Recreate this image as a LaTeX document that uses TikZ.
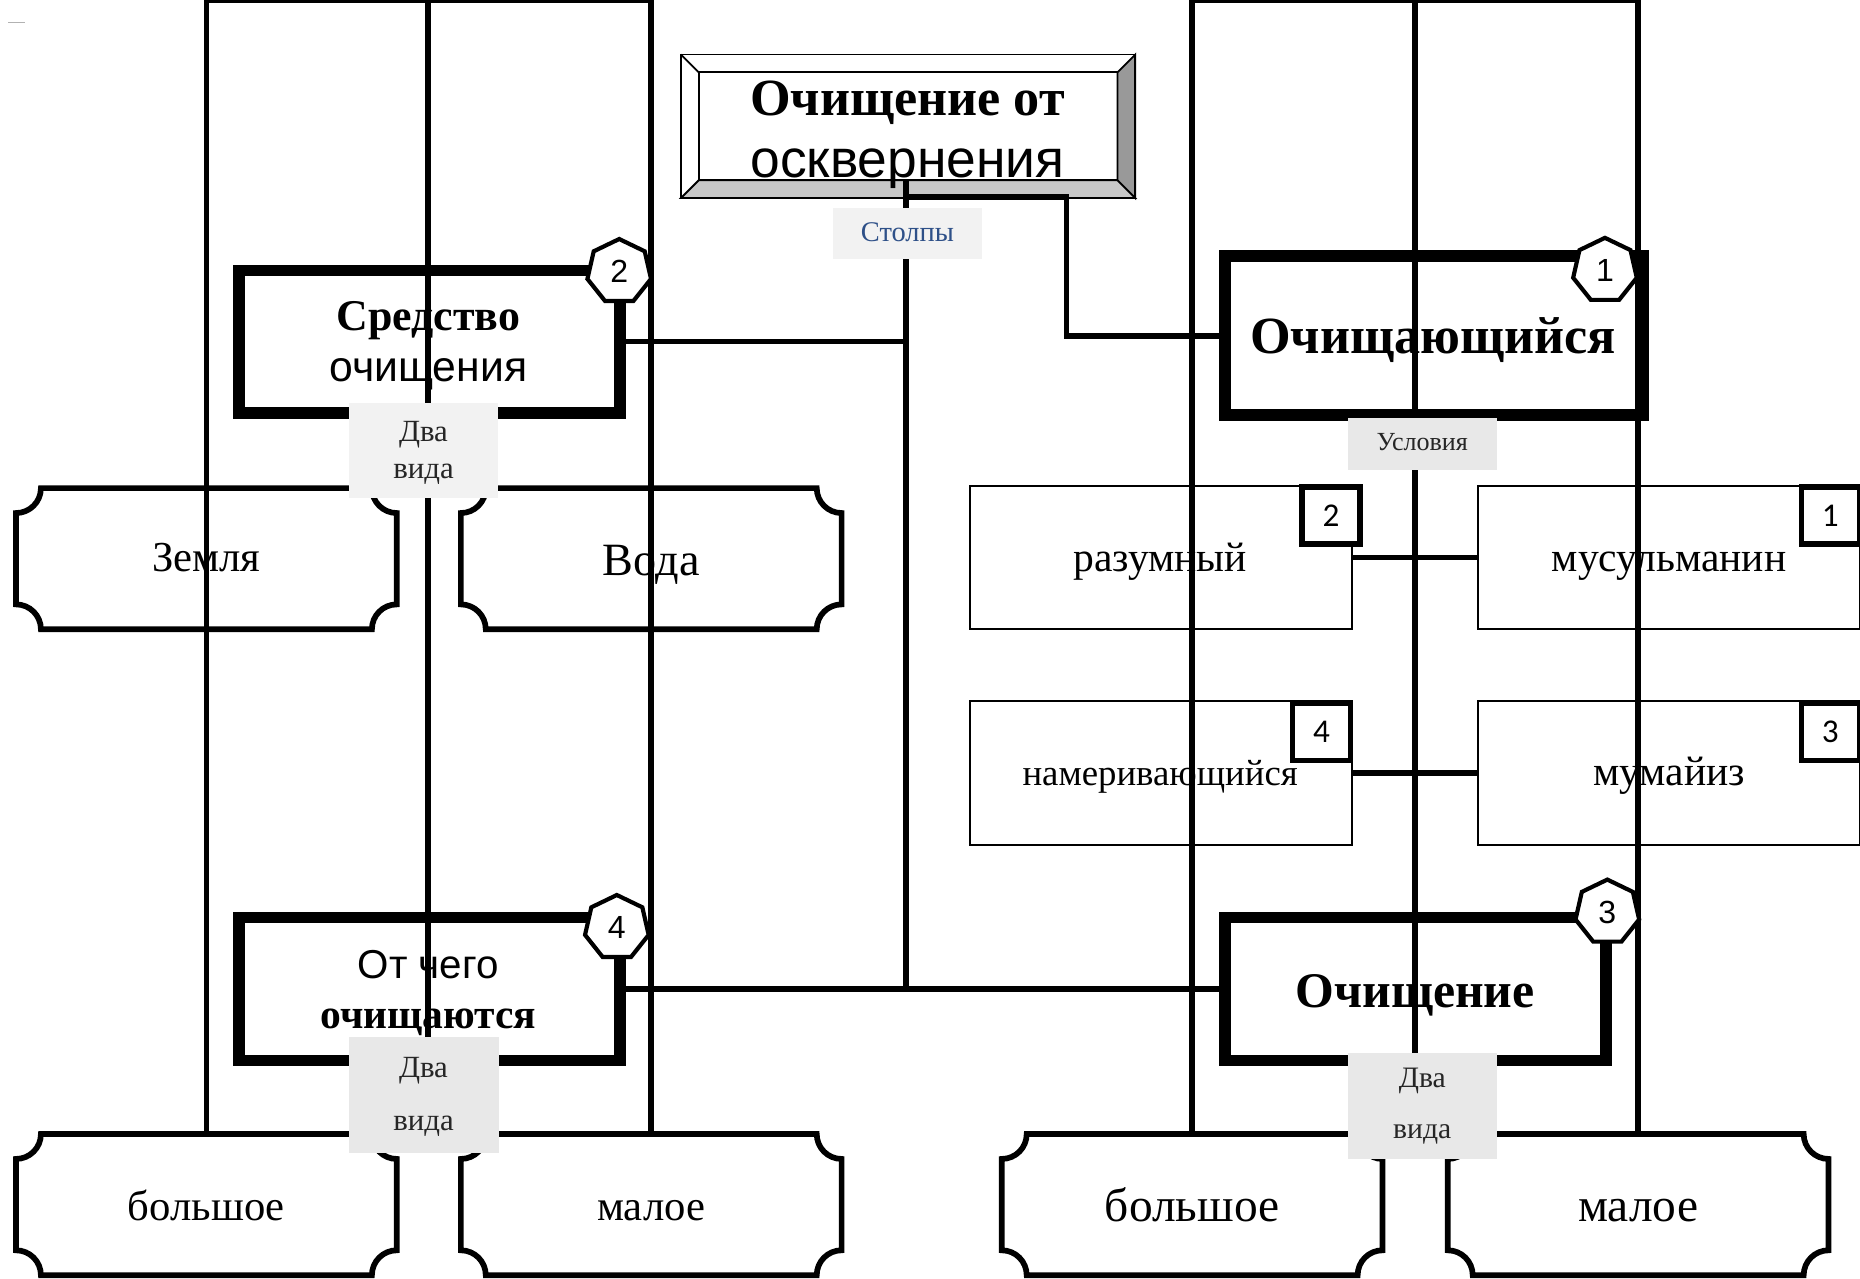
\documentclass[tikz,border=0pt]{standalone}
\usepackage{fontspec}
\setmainfont{Liberation Serif}
\newfontfamily\arialf{Liberation Sans}
\newfontfamily\calibf{Carlito}
\usetikzlibrary{shapes.geometric,calc}
\definecolor{lbl}{HTML}{F2F2F2}
\definecolor{lbldark}{HTML}{E8E8E8}
\definecolor{pillar}{HTML}{2E5088}
\definecolor{bevR}{HTML}{999999}
\definecolor{bevB}{HTML}{C8C8C8}
\newcommand{\fsz}[1]{\fontsize{#1}{#1}\selectfont}
\newcommand{\leafshape}[1]{%
  \draw[leafline] let \p1=(#1.north west), \p2=(#1.south east) in
   (\x1+21pt,\y1) -- (\x2-21pt,\y1)
   .. controls (\x2-21pt,\y1-11.6pt) and (\x2-11.6pt,\y1-21pt) .. (\x2,\y1-21pt)
   -- (\x2,\y2+21pt)
   .. controls (\x2-11.6pt,\y2+21pt) and (\x2-21pt,\y2+11.6pt) .. (\x2-21pt,\y2)
   -- (\x1+21pt,\y2)
   .. controls (\x1+21pt,\y2+11.6pt) and (\x1+11.6pt,\y2+21pt) .. (\x1,\y2+21pt)
   -- (\x1,\y1-21pt)
   .. controls (\x1+11.6pt,\y1-21pt) and (\x1+21pt,\y1-11.6pt) .. (\x1+21pt,\y1)
   -- cycle;}
\begin{document}
\begin{tikzpicture}[x=1pt,y=-1pt,
  thickbox/.style={draw, line width=10pt, inner sep=0pt},
  condbox/.style={draw, line width=1.8pt, minimum width=322pt, minimum height=121pt, inner sep=0pt},
  leafbox/.style={minimum width=321pt, minimum height=119pt, inner sep=0pt, outer sep=0pt},
  leafline/.style={line width=4.8pt},
  numsq/.style={draw, fill=white, line width=4.5pt, minimum width=49pt, minimum height=48pt, inner sep=0pt, font=\calibf\fsz{28}},
  hept/.style={draw, fill=white, regular polygon, regular polygon sides=7, minimum size=55pt, line width=3.5pt, inner sep=0pt, font=\arialf\fsz{27}},
  conn/.style={line width=4.8pt},
  lblbox/.style={inner sep=0pt, outer sep=0pt},
  txt/.style={anchor=base, inner sep=0pt},
  bev/.style={line width=1.5pt}
]
\useasboundingbox (0,0) rectangle (1568,1078);
\fill[white] (0,0) rectangle (1568,1078);
\draw[gray!60, line width=1pt] (7,19) -- (21,19);

% title box with bevel
\node[minimum width=383pt, minimum height=121pt, inner sep=0pt] (title) at (765.5,106.5) {};
\fill[white] (title.north west) rectangle (title.south east);
\filldraw[bev, fill=bevR] (957,46) -- (942,61) -- (942,152) -- (957,167) -- cycle;
\filldraw[bev, fill=bevB] (574,167) -- (589,152) -- (942,152) -- (957,167) -- cycle;
\draw[bev] (574,46) rectangle (957,167);
\draw[bev] (589,61) rectangle (942,152);
\draw[bev] (574,46) -- (589,61);
\node[txt, font=\bfseries\fsz{44}] at (765,97) {Очищение от};
\node[txt, font=\arialf\fsz{45}] at (765,150) {осквернения};

% main boxes
\node[thickbox, minimum width=321.5pt, minimum height=120pt] (sred) at (362.25,288) {};
\node[thickbox, minimum width=352.5pt, minimum height=134pt] (ochsya) at (1208.75,283) {};
\node[thickbox, minimum width=321.5pt, minimum height=120.5pt] (otch) at (362.25,833.75) {};
\node[thickbox, minimum width=321.5pt, minimum height=120.5pt] (ochen) at (1193.25,833.75) {};
\node[txt, font=\bfseries\fsz{37}] at (361,279) {Средство};
\node[txt, font=\arialf\fsz{36}] at (361,322) {очищения};
\node[txt, font=\bfseries\fsz{44}] at (1208,298) {Очищающийся};
\node[txt, font=\arialf\fsz{34}] at (361,825) {От чего};
\node[txt, font=\bfseries\fsz{35}] at (361,867) {очищаются};
\node[txt, font=\bfseries\fsz{42}] at (1193,849) {Очищение};

% condition boxes
\node[condbox] (razum) at (979,470) {};
\node[condbox] (musul) at (1407,470) {};
\node[condbox] (namer) at (979,651.5) {};
\node[condbox] (mumai) at (1407,651.5) {};
\node[txt, font=\fsz{35}] at (978,482) {разумный};
\node[txt, font=\fsz{35}] at (1407,482) {мусульманин};
\node[txt, font=\fsz{31}] at (978,662) {намеривающийся};
\node[txt, font=\fsz{35}] at (1407,662) {мумайиз};

% leaf boxes
\node[leafbox] (zemlya) at (174,471) {};
\node[leafbox] (voda) at (549,471) {};
\node[leafbox] (bolL) at (174,1015.5) {};
\node[leafbox] (malL) at (549,1015.5) {};
\node[leafbox] (bolR) at (1005,1015.5) {};
\node[leafbox] (malR) at (1381,1015.5) {};
\leafshape{zemlya}
\leafshape{voda}
\leafshape{bolL}
\leafshape{malL}
\leafshape{bolR}
\leafshape{malR}
\node[txt, font=\fsz{36}] at (174,482) {Земля};
\node[txt, font=\fsz{39}] at (549,485) {Вода};
\node[txt, font=\fsz{36}] at (174,1029) {большое};
\node[txt, font=\fsz{36}] at (549,1029) {малое};
\node[txt, font=\fsz{40}] at (1005,1030) {большое};
\node[txt, font=\fsz{40}] at (1381,1030) {малое};

% label boxes (positions)
\node[lblbox, minimum width=126pt, minimum height=43pt] (stolpy) at (765,196.5) {};
\node[lblbox, minimum width=126pt, minimum height=80pt] (vidaA) at (357,380) {};
\node[lblbox, minimum width=126pt, minimum height=44pt] (uslov) at (1199,374) {};
\node[lblbox, minimum width=127pt, minimum height=98pt] (vidaB) at (357.5,923) {};
\node[lblbox, minimum width=126pt, minimum height=89pt] (vidaC) at (1199,932.5) {};

% lines
\coordinate (la) at (174,0);
\coordinate (lb) at (361,0);
\coordinate (lc) at (549,0);
\coordinate (ra) at (1005,0);
\coordinate (rb) at (1193,0);
\coordinate (rc) at (1381,0);
\coordinate (mtop) at (764,152);
\coordinate (mbend) at (764,166);
\draw[conn] (la) -- (lc);
\draw[conn] (ra) -- (rc);
\draw[conn] (la) -- (bolL.north);
\draw[conn] (lc) -- (malL.north);
\draw[conn] (lb) -- (lb |- vidaB.north);
\draw[conn] (ra) -- (bolR.north);
\draw[conn] (rc) -- (malR.north);
\draw[conn] (rb) -- (rb |- vidaC.north);
\draw[conn] (mtop) -- (mtop |- otch.east);
\draw[conn] (mbend) -- ++(135,0) |- (ochsya.west);
\draw[conn] (sred.east) -- (sred.east -| mtop);
\draw[conn] (otch.east) -- (ochen.west);
\draw[conn] (razum.east) -- (musul.west);
\draw[conn] (namer.east) -- (mumai.west);

% labels on top
\fill[lbl] (stolpy.north west) rectangle (stolpy.south east);
\fill[lbl] (vidaA.north west) rectangle (vidaA.south east);
\fill[lbldark] (uslov.north west) rectangle (uslov.south east);
\fill[lbldark] (vidaB.north west) rectangle (vidaB.south east);
\fill[lbldark] (vidaC.north west) rectangle (vidaC.south east);
\node[txt, font=\fsz{24}, text=pillar] at (765,204) {Столпы};
\node[txt, font=\fsz{26}, text=black!85] at (357,372) {Два};
\node[txt, font=\fsz{26}, text=black!85] at (357,403) {вида};
\node[txt, font=\fsz{22}, text=black!85] at (1199,380) {Условия};
\node[txt, font=\fsz{26}, text=black!85] at (357,908) {Два};
\node[txt, font=\fsz{26}, text=black!85] at (357,953) {вида};
\node[txt, font=\fsz{25}, text=black!85] at (1199,917) {Два};
\node[txt, font=\fsz{25}, text=black!85] at (1199,960) {вида};

% badges
\node[hept] (h2) at (522,229) {2};
\node[hept] (h1) at (1353,228) {1};
\node[hept] (h3) at (1355,769) {3};
\node[hept] (h4) at (520,782) {4};
\node[numsq] (s2) at (1122,434.5) {2};
\node[numsq] (s1) at (1543,434.5) {1};
\node[numsq] (s4) at (1114,617) {4};
\node[numsq] (s3) at (1543,617) {3};
\end{tikzpicture}
\end{document}
